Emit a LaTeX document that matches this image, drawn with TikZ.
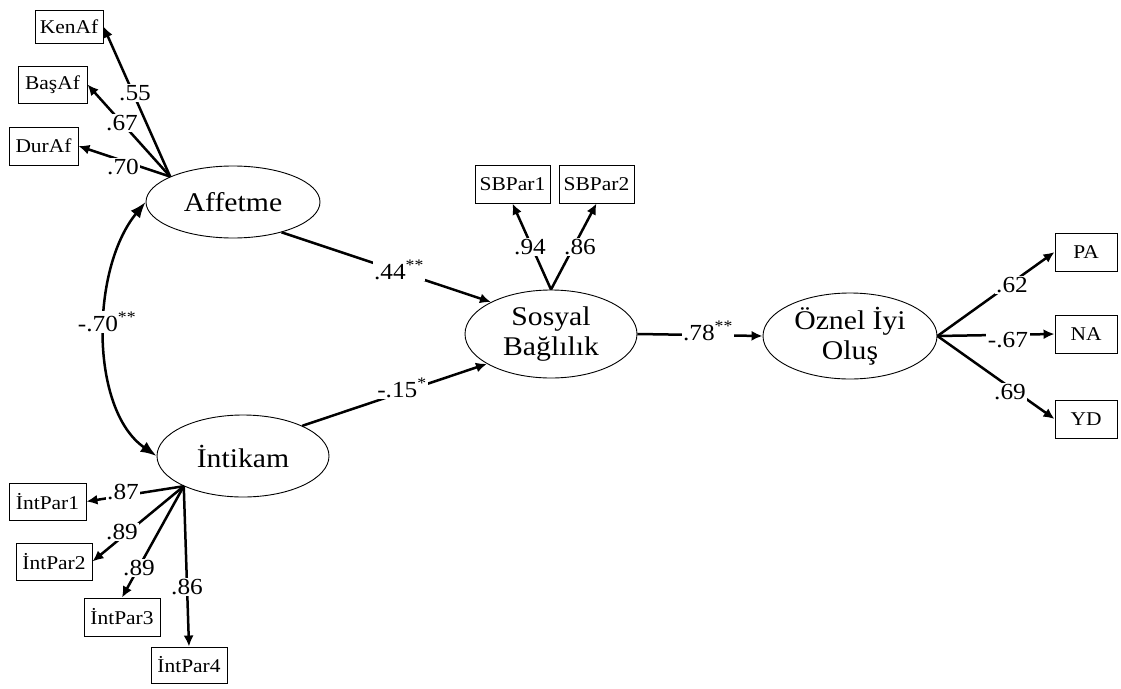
\documentclass[tikz,border=0pt]{standalone}
\usepackage{fontspec}
\setmainfont[FakeStretch=1.1]{Liberation Serif}
\usetikzlibrary{shapes.geometric,arrows.meta}
\begin{document}
\begin{tikzpicture}[x=1pt,y=-1pt,
  latent/.style={draw,ellipse,line width=0.9pt,inner sep=0pt,align=center,
    font=\fontsize{27}{30}\selectfont},
  observed/.style={draw,rectangle,line width=0.9pt,inner sep=0pt,fill=white,
    font=\fontsize{19.5}{22}\selectfont},
  coef/.style={fill=white,inner sep=1.5pt,font=\fontsize{23}{26}\selectfont},
  link/.style={line width=2.5pt,-{Latex[length=11pt,width=10pt]}},
  corr/.style={line width=2.5pt,{Latex[length=16pt,width=12pt]}-{Latex[length=16pt,width=12pt]}}
]
\useasboundingbox (0,0) rectangle (1121,688);

% latent variables
\node[latent,minimum width=174,minimum height=72] (aff) at (233,202) {Affetme};
\node[latent,minimum width=172,minimum height=82] (int) at (243,456) {İntikam};
\node[latent,minimum width=172,minimum height=88] (sb) at (551,334) {Sosyal\\Bağlılık};
\node[latent,minimum width=174,minimum height=86] (oz) at (850,336) {Öznel İyi\\Oluş};

% indicators
\node[observed,minimum width=68,minimum height=33] (ken) at (69,26.5) {KenAf};
\node[observed,minimum width=69,minimum height=37] (bas) at (52.5,84.5) {BaşAf};
\node[observed,minimum width=69,minimum height=38] (dur) at (43.5,146) {DurAf};
\node[observed,minimum width=77,minimum height=37] (ip1) at (47.5,501.5) {İntPar1};
\node[observed,minimum width=76,minimum height=37] (ip2) at (54,561.5) {İntPar2};
\node[observed,minimum width=76,minimum height=38] (ip3) at (122,617) {İntPar3};
\node[observed,minimum width=76,minimum height=36] (ip4) at (189,665) {İntPar4};
\node[observed,minimum width=75,minimum height=38] (sb1) at (512.5,184) {SBPar1};
\node[observed,minimum width=75,minimum height=38] (sb2) at (596.5,184) {SBPar2};
\node[observed,minimum width=62,minimum height=38] (pa) at (1086,252) {PA};
\node[observed,minimum width=62,minimum height=38] (na) at (1086,334) {NA};
\node[observed,minimum width=62,minimum height=38] (yd) at (1086,419) {YD};

% loadings
\draw[link] (aff.158) -- (ken.east);
\draw[link] (aff.158) -- (bas.east);
\draw[link] (aff.158) -- (dur.east);
\draw[link] (int.207) -- (ip1.east);
\draw[link] (int.207) -- (ip2.east);
\draw[link] (int.207) -- (ip3.north);
\draw[link] (int.207) -- (ip4.north);
\draw[link] (sb.north) -- (sb1.south);
\draw[link] (sb.north) -- (sb2.south);
\draw[link] (oz.east) -- (pa.west);
\draw[link] (oz.east) -- (na.west);
\draw[link] (oz.east) -- (yd.west);

% structural paths
\draw[link] (aff.-32) -- (sb.152);
\draw[link] (int.27) -- (sb.205);
\draw[link] (sb.east) -- (oz.west);
\draw[corr] (int.west) .. controls (90,410) and (90,270) .. (aff.west);

% coefficients
\node[coef] (c1) at (135,93) {.55};
\node[coef] (c2) at (122,123) {.67};
\node[coef] (c3) at (123,167) {.70};
\node[coef] (c4) at (123,492) {.87};
\node[coef] (c5) at (122,532) {.89};
\node[coef] (c6) at (139,568) {.89};
\node[coef] (c7) at (187,587) {.86};
\node[coef] (c8) at (530,247) {.94};
\node[coef] (c9) at (580,247) {.86};
\node[coef] (c10) at (399,270) {.44\textsuperscript{**}};
\node[coef] (c11) at (402,388) {-.15\textsuperscript{*}};
\node[coef] (c12) at (708,331) {.78\textsuperscript{**}};
\node[coef] (c13) at (1012,285) {.62};
\node[coef] (c14) at (1008,340) {-.67};
\node[coef] (c15) at (1010,392) {.69};
\node[coef] (c16) at (107,322) {-.70\textsuperscript{**}};
\end{tikzpicture}
\end{document}
